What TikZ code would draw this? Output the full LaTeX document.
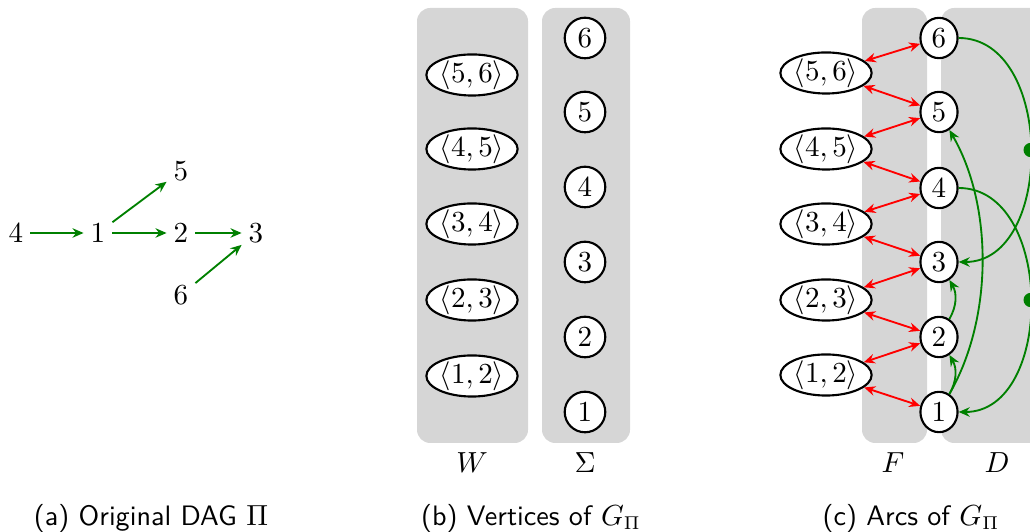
\documentclass[tikz,border=0pt]{standalone}
\usepackage{amsmath,amssymb}
\usepackage{xcolor}
\usepackage{tikz}
\usetikzlibrary{shapes.geometric,arrows.meta}

\definecolor{panelgray}{gray}{0.84}
\definecolor{dagreen}{rgb}{0,0.5,0}

\begin{document}
\begin{tikzpicture}[
  x=0.377pt, y=-0.377pt,
  every node/.style={font=\fontsize{10.6}{13}\selectfont},
  vtx/.style={draw, circle, thick, fill=white, inner sep=0pt, minimum size=15.3pt},
  vtxc/.style={draw, ellipse, thick, fill=white, inner sep=0pt, minimum width=14pt, minimum height=15.2pt},
  pr/.style={draw, ellipse, thick, fill=white, inner sep=0pt, minimum width=33.4pt, minimum height=15pt},
  lbl/.style={inner sep=2.5pt},
  panel/.style={fill=panelgray, rounded corners=5pt},
  garr/.style={-{Stealth[length=4.2pt, width=3.6pt, inset=1.4pt]}, line width=0.7pt, dagreen},
  rarr/.style={{Stealth[length=4.2pt, width=3.6pt, inset=1.4pt]}-{Stealth[length=4.2pt, width=3.6pt, inset=1.4pt]}, line width=0.7pt, red},
  mid/.style={circle, fill=dagreen, inner sep=0pt, minimum size=5.4pt}
]
\useasboundingbox (0,0) rectangle (1030,532);

% ─── (a) original DAG ───
\node[lbl] (a4) at (16, 233)  {$4$};
\node[lbl] (a1) at (98, 233)  {$1$};
\node[lbl] (a2) at (181, 233) {$2$};
\node[lbl] (a3) at (256, 233) {$3$};
\node[lbl] (a5) at (181, 171) {$5$};
\node[lbl] (a6) at (181, 295) {$6$};

\draw[garr] (a4) -- (a1);
\draw[garr] (a1) -- (a5);
\draw[garr] (a1) -- (a2);
\draw[garr] (a2) -- (a3);
\draw[garr] (a6) -- (a3);

% ─── (b) vertices: W and Sigma panels (behind nodes) ───
\fill[panel] (417, 8) rectangle (528, 443);
\fill[panel] (542, 8) rectangle (630, 443);

\node[pr] (w56) at (472, 75)  {$\langle 5,6\rangle$};
\node[pr] (w45) at (472, 149) {$\langle 4,5\rangle$};
\node[pr] (w34) at (472, 224) {$\langle 3,4\rangle$};
\node[pr] (w23) at (472, 300) {$\langle 2,3\rangle$};
\node[pr] (w12) at (472, 376) {$\langle 1,2\rangle$};

\node[vtx] (b6) at (585, 38)  {$6$};
\node[vtx] (b5) at (585, 112) {$5$};
\node[vtx] (b4) at (585, 187) {$4$};
\node[vtx] (b3) at (585, 262) {$3$};
\node[vtx] (b2) at (585, 337) {$2$};
\node[vtx] (b1) at (585, 412) {$1$};

\node (wl) at (472, 463) {$W$};
\node (sl) at (585, 463) {$\Sigma$};

% ─── (c) arcs: F and D panels (D runs off the right edge) ───
\fill[panel] (862, 8) rectangle (927, 443);
\fill[panel] (941, 8) rectangle (1060, 443);

\node[pr] (c56) at (826, 73)  {$\langle 5,6\rangle$};
\node[pr] (c45) at (826, 149) {$\langle 4,5\rangle$};
\node[pr] (c34) at (826, 224) {$\langle 3,4\rangle$};
\node[pr] (c23) at (826, 300) {$\langle 2,3\rangle$};
\node[pr] (c12) at (826, 375) {$\langle 1,2\rangle$};

\node[vtxc] (s6) at (939, 38)  {$6$};
\node[vtxc] (s5) at (939, 112) {$5$};
\node[vtxc] (s4) at (939, 188) {$4$};
\node[vtxc] (s3) at (939, 262) {$3$};
\node[vtxc] (s2) at (939, 337) {$2$};
\node[vtxc] (s1) at (939, 412) {$1$};

\node (fl) at (893, 463) {$F$};
\node (dl) at (997, 463) {$D$};

% ─── F: red two-way arcs ───
\draw[rarr] (c56) -- (s6);
\draw[rarr] (c56) -- (s5);
\draw[rarr] (c45) -- (s5);
\draw[rarr] (c45) -- (s4);
\draw[rarr] (c34) -- (s4);
\draw[rarr] (c34) -- (s3);
\draw[rarr] (c23) -- (s3);
\draw[rarr] (c23) -- (s2);
\draw[rarr] (c12) -- (s2);
\draw[rarr] (c12) -- (s1);

% ─── D: green arcs ───
\draw[garr] (s6.east) to[out=0, in=0, looseness=1.1] node[mid] {} (s3.east);
\draw[garr] (s4.east) to[out=0, in=0, looseness=1.1] node[mid] {} (s1.east);
\draw[garr] (s1) to[out=60, in=-60, looseness=0.85] (s5);
\draw[garr] (s1) to[out=60, in=-60] (s2);
\draw[garr] (s2) to[out=60, in=-60] (s3);

% ─── captions ───
\node (capa) at (151, 518) {\sffamily (a) Original DAG $\Pi$};
\node (capb) at (531, 518) {\sffamily (b) Vertices of $G_\Pi$};
\node (capc) at (911, 518) {\sffamily (c) Arcs of $G_\Pi$};

\end{tikzpicture}
\end{document}
